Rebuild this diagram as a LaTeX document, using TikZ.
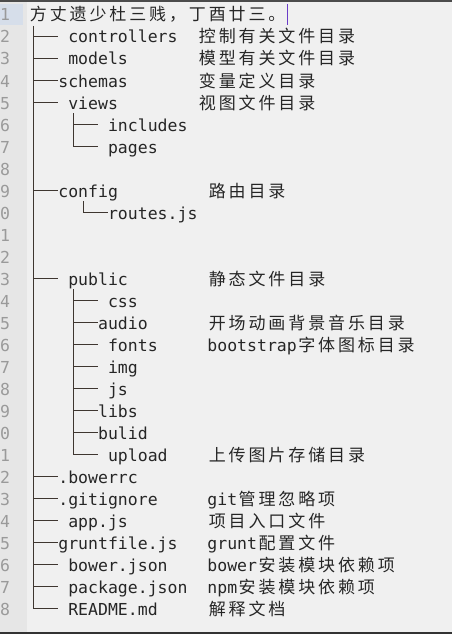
\documentclass[tikz,border=0pt]{standalone}
\usepackage{fontspec}
\newfontfamily\monof{DejaVu Sans Mono}
\newfontfamily\cjkf{Noto Sans CJK SC}
\newlength\cw \setlength\cw{9.94pt}
\newcommand\mch[1]{\ifnum`#1>255 \makebox[2\cw][c]{\cjkf\fontsize{17}{17}\selectfont#1}\else\makebox[\cw][c]{#1}\fi}
\newcommand\mstr[1]{\mloop#1\relax}
\def\mloop#1{\ifx#1\relax\else\mch{#1}\expandafter\mloop\fi}
\definecolor{bgc}{HTML}{F0F0F0}
\definecolor{gutc}{HTML}{E6E6E6}
\definecolor{hlc}{HTML}{D6DEEA}
\definecolor{txtc}{HTML}{262626}
\definecolor{treec}{HTML}{3E3630}
\definecolor{numc}{HTML}{9A9A9A}
\definecolor{curc}{HTML}{6A3CC8}
\tikzset{
  txt/.style={anchor=base west, inner sep=0pt, outer sep=0pt, text=txtc, font=\monof\fontsize{16.5}{16.5}\selectfont},
  num/.style={anchor=base west, inner sep=0pt, text=numc, font=\monof\fontsize{16.5}{16.5}\selectfont},
  tree/.style={draw=treec, line width=1pt},
}
\newcommand\putt[4]{\node[txt] (#1) at ({28.5+9.94*#3},{22*#2-1}) {\mstr{#4}};}
\begin{document}
\begin{tikzpicture}[x=1pt,y=-1pt]
\useasboundingbox (0,0) rectangle (452,634);
\fill[bgc] (0,0) rectangle (452,634);
\fill[gutc] (0,0) rectangle (27,634);
\fill[hlc] (0,4) rectangle (23,25);
\fill[black!70] (0,0) rectangle (452,2);
\fill[black!80] (0,632) rectangle (452,634);
% line numbers (only the last digit is visible in the narrow gutter)
\foreach \n in {1,...,28} {
  \pgfmathtruncatemacro{\d}{mod(\n,10)}
  \node[num] (ln\n) at (0,{22*\n-1}) {\d};
}
% tree
\coordinate (mtop) at (33.5,26);
\coordinate (mbot) at (33.5,{22*28-7.5});
\draw[tree] (mtop) -- (mbot);
\foreach \n in {2,3,4,5,9,13,22,23,24,25,26,27,28} {
  \draw[tree] (33.5,{22*\n-7.5}) -- (58.3,{22*\n-7.5});
}
% views
\coordinate (vtop) at (73.5,113);
\coordinate (vbot) at (73.5,{22*7-7.5});
\draw[tree] (vtop) -- (vbot);
\foreach \n in {6,7} {
  \draw[tree] (73.5,{22*\n-7.5}) -- (98.1,{22*\n-7.5});
}
% config
\coordinate (ctop) at (83.5,201);
\draw[tree] (ctop) -- (83.5,{22*10-7.5}) -- (108,{22*10-7.5});
% public
\coordinate (ptop) at (73.5,289);
\coordinate (pbot) at (73.5,{22*21-7.5});
\draw[tree] (ptop) -- (pbot);
\foreach \n in {14,15,16,17,18,19,20,21} {
  \draw[tree] (73.5,{22*\n-7.5}) -- (98.1,{22*\n-7.5});
}
% texts
\putt{l1}{1}{0}{方丈遗少杜三贱，丁酉廿三。}
\putt{t2}{2}{4}{controllers}
\putt{a2}{2}{17}{控制有关文件目录}
\putt{t3}{3}{4}{models}
\putt{a3}{3}{17}{模型有关文件目录}
\putt{t4}{4}{3}{schemas}
\putt{a4}{4}{17}{变量定义目录}
\putt{t5}{5}{4}{views}
\putt{a5}{5}{17}{视图文件目录}
\putt{t6}{6}{8}{includes}
\putt{t7}{7}{8}{pages}
\putt{t9}{9}{3}{config}
\putt{a9}{9}{18}{路由目录}
\putt{t10}{10}{8}{routes.js}
\putt{t13}{13}{4}{public}
\putt{a13}{13}{18}{静态文件目录}
\putt{t14}{14}{8}{css}
\putt{t15}{15}{7}{audio}
\putt{a15}{15}{18}{开场动画背景音乐目录}
\putt{t16}{16}{8}{fonts}
\putt{a16}{16}{18}{bootstrap字体图标目录}
\putt{t17}{17}{8}{img}
\putt{t18}{18}{8}{js}
\putt{t19}{19}{7}{libs}
\putt{t20}{20}{7}{bulid}
\putt{t21}{21}{8}{upload}
\putt{a21}{21}{18}{上传图片存储目录}
\putt{t22}{22}{3}{.bowerrc}
\putt{t23}{23}{3}{.gitignore}
\putt{a23}{23}{18}{git管理忽略项}
\putt{t24}{24}{4}{app.js}
\putt{a24}{24}{18}{项目入口文件}
\putt{t25}{25}{3}{gruntfile.js}
\putt{a25}{25}{18}{grunt配置文件}
\putt{t26}{26}{4}{bower.json}
\putt{a26}{26}{18}{bower安装模块依赖项}
\putt{t27}{27}{4}{package.json}
\putt{a27}{27}{18}{npm安装模块依赖项}
\putt{t28}{28}{4}{README.md}
\putt{a28}{28}{18}{解释文档}
% cursor
\coordinate (cur1) at (287.5,4);
\coordinate (cur2) at (287.5,25);
\draw[curc, line width=1pt] (cur1) -- (cur2);
\end{tikzpicture}
\end{document}
